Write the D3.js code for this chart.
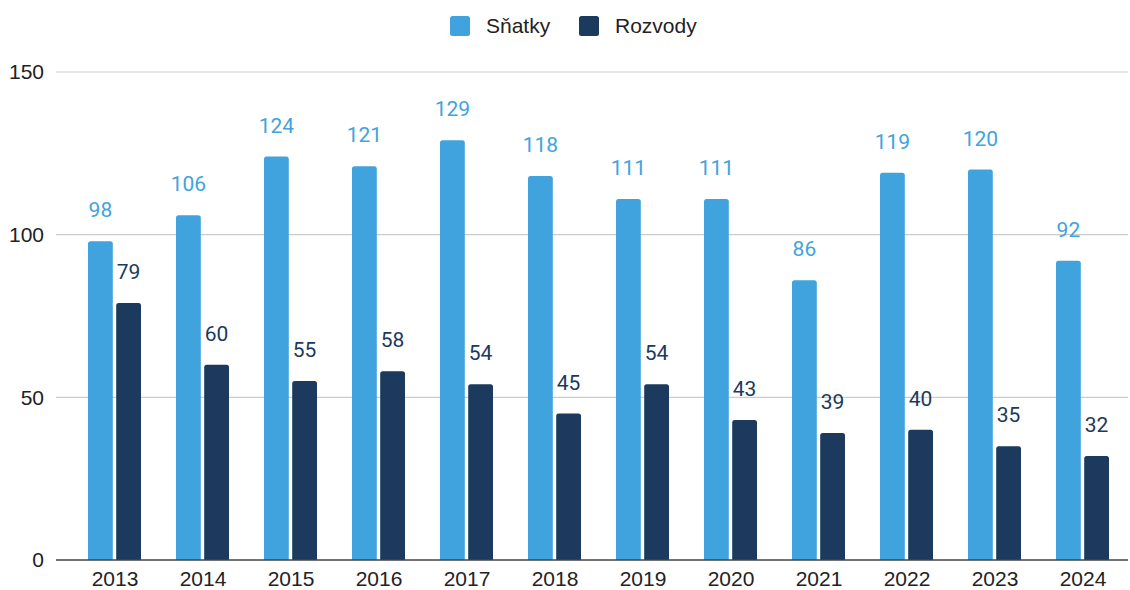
<!DOCTYPE html>
<html><head><meta charset="utf-8">
<script src="https://cdn.jsdelivr.net/npm/d3@7"></script>
<style>body{margin:0;background:#fff}svg{display:block}</style>
</head><body>
<svg id="c" width="1130" height="590"></svg>
<script>
const categories = ["2013","2014","2015","2016","2017","2018","2019","2020","2021","2022","2023","2024"];
const snatky = [98,106,124,121,129,118,111,111,86,119,120,92];
const rozvody = [79,60,55,58,54,45,54,43,39,40,35,32];
const seriesNames = ["Sňatky","Rozvody"];
const yTicks = [0,50,100,150];

const colors = ["#41a3dd","#1b3a5e"];
const svg = d3.select("#c");
const x = d3.scaleBand().domain(categories).range([71,1127]).paddingInner(0).paddingOuter(0);
const x1 = d3.scaleBand().domain([0,1]).range([17,70]).paddingInner(0.12);
const y = d3.scaleLinear().domain([0,150]).range([560,72]);
const font = "Liberation Sans, Arial, sans-serif";

// gridlines
svg.append("g").selectAll("line").data(yTicks.filter(d=>d>0)).join("line")
  .attr("x1",56).attr("x2",1128).attr("y1",d=>y(d)).attr("y2",d=>y(d))
  .attr("stroke","#cccccc").attr("stroke-width",1.2);
svg.append("g").selectAll("text").data(yTicks).join("text")
  .attr("x",44).attr("y",d=>y(d)).attr("dy","0.35em").attr("text-anchor","end")
  .attr("font-family",font).attr("font-size",21).attr("fill","#222")
  .text(d=>d);

const data = [snatky, rozvody];
function barPath(x0,w,yt,yb,r){
  r=Math.min(r,(yb-yt));
  return `M${x0},${yb}V${yt+r}Q${x0},${yt} ${x0+r},${yt}H${x0+w-r}Q${x0+w},${yt} ${x0+w},${yt+r}V${yb}Z`;
}
data.forEach((vals,si)=>{
  const g = svg.append("g");
  g.selectAll("path").data(vals).join("path")
    .attr("d",(d,i)=>barPath(x(categories[i])+x1(si),x1.bandwidth(),y(d),y(0),2.5))
    .attr("fill",colors[si]);
  g.selectAll("text").data(vals).join("text")
    .attr("x",(d,i)=>x(categories[i])+x1(si)+x1.bandwidth()/2)
    .attr("y",d=>y(d)-24).attr("text-anchor","middle")
    .attr("font-family","Roboto, sans-serif").attr("font-size",21)
    .attr("fill",colors[si]).text(d=>d);
});

// baseline
svg.append("line").attr("x1",56).attr("x2",1128).attr("y1",y(0)).attr("y2",y(0))
  .attr("stroke","#444").attr("stroke-width",1.5);
// x labels
svg.append("g").selectAll("text").data(categories).join("text")
  .attr("x",d=>x(d)+x.bandwidth()/2).attr("y",586).attr("text-anchor","middle")
  .attr("font-family",font).attr("font-size",21).attr("fill","#222")
  .text(d=>d);

// legend
const legX=[450,579];
seriesNames.forEach((n,i)=>{
  svg.append("rect").attr("x",legX[i]).attr("y",16).attr("width",20).attr("height",20).attr("rx",2.5)
    .attr("fill",colors[i]);
  svg.append("text").attr("x",legX[i]+36).attr("y",26).attr("dy","0.35em")
    .attr("font-family",font).attr("font-size",21).attr("fill","#222").text(n);
});
</script>
</body></html>
